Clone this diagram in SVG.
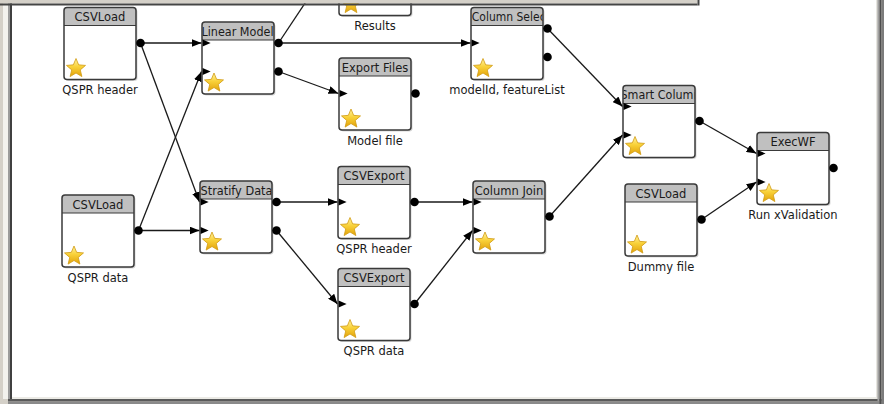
<svg xmlns="http://www.w3.org/2000/svg" xmlns:xlink="http://www.w3.org/1999/xlink" width="884" height="404" viewBox="0 0 884 404">
  <style>
    .title { font-family: "DejaVu Sans", "Liberation Sans", sans-serif; font-size: 11.5px; fill: #1a1a1a; text-anchor: middle; }
    .title.start { text-anchor: start; }
    .label { font-family: "DejaVu Sans", "Liberation Sans", sans-serif; font-size: 11.5px; fill: #1a1a1a; text-anchor: middle; }
    .wire { fill: none; stroke: #1a1a1a; stroke-width: 1.3; marker-end: url(#arrow); }
  </style>
  <defs>
    <linearGradient id="starFill" x1="0" y1="0" x2="0" y2="1">
      <stop offset="0" stop-color="#fff3a6"/>
      <stop offset="0.45" stop-color="#f9d23a"/>
      <stop offset="1" stop-color="#e2a20a"/>
    </linearGradient>
    <marker id="arrow" markerUnits="userSpaceOnUse" markerWidth="10" markerHeight="8" refX="10" refY="4" orient="auto">
      <path d="M0,0 L10,4 L0,8 Z" fill="#000"/>
    </marker>
    <clipPath id="hdrClip">
      <rect x="0.6" y="0" width="70.8" height="18"/>
    </clipPath>
    <!-- node body: shadow, white panel, grey title strip, outline -->
    <g id="frame">
      <rect x="1.5" y="1.5" width="72" height="72" rx="3" fill="#000" opacity="0.16"/>
      <rect width="72" height="72" rx="3" fill="#fff"/>
      <path d="M0,3 A3,3 0 0 1 3,0 H69 A3,3 0 0 1 72,3 V18 H0 Z" fill="#c0c0c0"/>
      <path d="M0,18 H72" stroke="#3a3a3a" stroke-width="1.2"/>
      <rect width="72" height="72" rx="3" fill="none" stroke="#3a3a3a" stroke-width="1.5"/>
    </g>
    <path id="star" d="M0,-10 L2.645,-3.641 L9.511,-3.09 L4.28,1.391 L5.878,8.09 L0,4.5 L-5.878,8.09 L-4.28,1.391 L-9.511,-3.09 L-2.645,-3.641 Z" fill="url(#starFill)" stroke="#d19a12" stroke-width="0.8" stroke-linejoin="round"/>
    <circle id="outPort" r="4.3" fill="#000"/>
    <path id="inPort" d="M0.6,-3.5 L8.6,0 L0.6,3.5 Z" fill="#000"/>
  </defs>

  <!-- window chrome -->
  <rect width="884" height="404" fill="#d4d0c8"/>
  <rect x="12" y="0" width="864" height="397" fill="#fff"/>
  <rect x="3" y="0" width="5" height="399" fill="#f3f2ee"/>
  <rect x="8" y="0" width="2" height="399" fill="#9c9c9c"/>
  <rect x="10" y="0" width="2" height="399" fill="#404040"/>
  <rect x="12" y="397" width="864" height="2" fill="#ecebe6"/>
  <rect x="8" y="399" width="876" height="2.5" fill="#5a5a5a"/>
  <rect x="8" y="401.5" width="876" height="2.5" fill="#8a8a8a"/>
  <rect x="876" y="0" width="1.5" height="399" fill="#e6e5e0"/>
  <rect x="877.5" y="0" width="2" height="401" fill="#a0a0a0"/>
  <rect x="879.5" y="0" width="2" height="404" fill="#4e4e4e"/>
  <rect x="881.5" y="0" width="2.5" height="404" fill="#7c7c7c"/>

  <!-- connectors -->
  <g id="connectors">
    <path class="wire" d="M140.5,43 L201.5,43"/>
    <path class="wire" d="M140.5,43 L199.5,202"/>
    <path class="wire" d="M138.5,230.5 L201.5,71.5"/>
    <path class="wire" d="M138.5,230.5 L199.5,230.5"/>
    <path class="wire" d="M278.5,43 L339,-48"/>
    <path class="wire" d="M278.5,43 L470.5,43"/>
    <path class="wire" d="M278.5,71.5 L338.5,93.5"/>
    <path class="wire" d="M547.5,28.5 L622.5,106.5"/>
    <path class="wire" d="M276.5,202 L337.5,202"/>
    <path class="wire" d="M276.5,230.5 L337.5,304"/>
    <path class="wire" d="M414.5,202 L472.5,202"/>
    <path class="wire" d="M414.5,304 L472.5,230.5"/>
    <path class="wire" d="M549.5,216.5 L622.5,135"/>
    <path class="wire" d="M699.5,121 L756.5,153.5"/>
    <path class="wire" d="M701.5,219.5 L756.5,182"/>
  </g>

  <!-- nodes -->
  <g id="csvload-header" transform="translate(64,7.5)">
    <use xlink:href="#frame"/>
    <text class="title" x="36" y="13.5" clip-path="url(#hdrClip)">CSVLoad</text>
    <use xlink:href="#star" x="12" y="61"/>
    <use xlink:href="#outPort" x="76.5" y="35.5"/>
    <text class="label" x="36" y="86.5">QSPR header</text>
  </g>

  <g id="linear-model" transform="translate(202,22)">
    <use xlink:href="#frame"/>
    <text class="title" x="35.5" y="13.5" textLength="72" lengthAdjust="spacingAndGlyphs" clip-path="url(#hdrClip)">Linear Model</text>
    <use xlink:href="#star" x="12" y="61"/>
    <use xlink:href="#inPort" x="0" y="21"/>
    <use xlink:href="#inPort" x="0" y="49.5"/>
    <use xlink:href="#outPort" x="76.5" y="21"/>
    <use xlink:href="#outPort" x="76.5" y="49.5"/>
  </g>

  <!-- results node: only its lower edge shows below the top panel -->
  <g id="results" transform="translate(339,-56.5)">
    <use xlink:href="#frame"/>
    <use xlink:href="#star" x="12" y="61"/>
    <text class="label" x="36" y="86.5">Results</text>
  </g>

  <g id="column-select" transform="translate(471,7.5)">
    <use xlink:href="#frame"/>
    <text class="title start" x="0.8" y="13.5" textLength="78" lengthAdjust="spacingAndGlyphs" clip-path="url(#hdrClip)">Column Select</text>
    <use xlink:href="#star" x="12" y="61"/>
    <use xlink:href="#inPort" x="0" y="35.5"/>
    <use xlink:href="#outPort" x="76.5" y="21"/>
    <use xlink:href="#outPort" x="76.5" y="49.5"/>
    <text class="label" x="36" y="86.5">modelId, featureList</text>
  </g>

  <g id="export-files" transform="translate(339,58)">
    <use xlink:href="#frame"/>
    <text class="title" x="36" y="13.5" clip-path="url(#hdrClip)">Export Files</text>
    <use xlink:href="#star" x="12" y="61"/>
    <use xlink:href="#inPort" x="0" y="35.5"/>
    <use xlink:href="#outPort" x="76.5" y="35.5"/>
    <text class="label" x="36" y="86.5">Model file</text>
  </g>

  <g id="csvload-data" transform="translate(62,195)">
    <use xlink:href="#frame"/>
    <text class="title" x="36" y="13.5" clip-path="url(#hdrClip)">CSVLoad</text>
    <use xlink:href="#star" x="12" y="61"/>
    <use xlink:href="#outPort" x="76.5" y="35.5"/>
    <text class="label" x="36" y="86.5">QSPR data</text>
  </g>

  <g id="stratify-data" transform="translate(200,181)">
    <use xlink:href="#frame"/>
    <text class="title" x="36.5" y="13.5" textLength="72" lengthAdjust="spacingAndGlyphs" clip-path="url(#hdrClip)">Stratify Data</text>
    <use xlink:href="#star" x="12" y="61"/>
    <use xlink:href="#inPort" x="0" y="21"/>
    <use xlink:href="#inPort" x="0" y="49.5"/>
    <use xlink:href="#outPort" x="76.5" y="21"/>
    <use xlink:href="#outPort" x="76.5" y="49.5"/>
  </g>

  <g id="csvexport-header" transform="translate(338,166.5)">
    <use xlink:href="#frame"/>
    <text class="title" x="36" y="13.5" clip-path="url(#hdrClip)">CSVExport</text>
    <use xlink:href="#star" x="12" y="61"/>
    <use xlink:href="#inPort" x="0" y="35.5"/>
    <use xlink:href="#outPort" x="76.5" y="35.5"/>
    <text class="label" x="36" y="86.5">QSPR header</text>
  </g>

  <g id="csvexport-data" transform="translate(338,268.5)">
    <use xlink:href="#frame"/>
    <text class="title" x="36" y="13.5" clip-path="url(#hdrClip)">CSVExport</text>
    <use xlink:href="#star" x="12" y="61"/>
    <use xlink:href="#inPort" x="0" y="35.5"/>
    <use xlink:href="#outPort" x="76.5" y="35.5"/>
    <text class="label" x="36" y="86.5">QSPR data</text>
  </g>

  <g id="column-join" transform="translate(473,181)">
    <use xlink:href="#frame"/>
    <text class="title" x="36" y="13.5" clip-path="url(#hdrClip)">Column Join</text>
    <use xlink:href="#star" x="12" y="61"/>
    <use xlink:href="#inPort" x="0" y="21"/>
    <use xlink:href="#inPort" x="0" y="49.5"/>
    <use xlink:href="#outPort" x="76.5" y="35.5"/>
  </g>

  <g id="smart-column" transform="translate(623,85.5)">
    <use xlink:href="#frame"/>
    <text class="title start" x="-2.5" y="13.5" textLength="80" lengthAdjust="spacingAndGlyphs" clip-path="url(#hdrClip)">Smart Column</text>
    <use xlink:href="#star" x="12" y="61"/>
    <use xlink:href="#inPort" x="0" y="21"/>
    <use xlink:href="#inPort" x="0" y="49.5"/>
    <use xlink:href="#outPort" x="76.5" y="35.5"/>
  </g>

  <g id="execwf" transform="translate(757,132.5)">
    <use xlink:href="#frame"/>
    <text class="title" x="36" y="13.5" clip-path="url(#hdrClip)">ExecWF</text>
    <use xlink:href="#star" x="12" y="61"/>
    <use xlink:href="#inPort" x="0" y="21"/>
    <use xlink:href="#inPort" x="0" y="49.5"/>
    <use xlink:href="#outPort" x="76.5" y="35.5"/>
    <text class="label" x="36" y="86.5">Run xValidation</text>
  </g>

  <g id="csvload-dummy" transform="translate(625,184)">
    <use xlink:href="#frame"/>
    <text class="title" x="36" y="13.5" clip-path="url(#hdrClip)">CSVLoad</text>
    <use xlink:href="#star" x="12" y="61"/>
    <use xlink:href="#outPort" x="76.5" y="35.5"/>
    <text class="label" x="36" y="86.5">Dummy file</text>
  </g>

  <!-- overlapping panel edge along the top -->
  <rect x="0" y="0" width="697.5" height="3.5" fill="#d4d0c8"/>
  <rect x="0" y="3.5" width="697.5" height="2" fill="#454545"/>
  <rect x="697.5" y="0" width="2" height="5.5" fill="#454545"/>
</svg>
